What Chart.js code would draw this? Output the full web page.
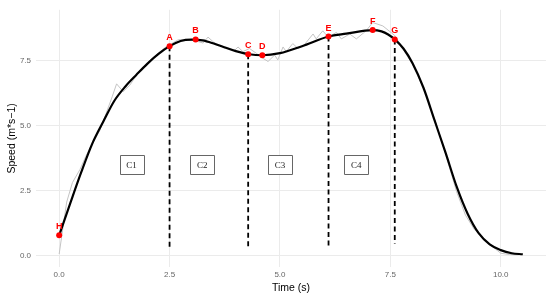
<!DOCTYPE html>
<html lang="en">
  <head>
    <meta charset="UTF-8" />
    <title>Speed over time</title>
    <style>
      html, body { margin: 0; padding: 0; background: #fff; }
      #wrap { width: 550px; height: 296px; }
    </style>
  </head>
  <body>
    <div id="wrap"><canvas id="myChart"></canvas></div>
    <script src="https://cdn.jsdelivr.net/npm/chart.js@4.4.1/dist/chart.umd.min.js"></script>
    <script>
      // raw measured speed (grey, noisy)
      var rawTime = [0, 0.08, 0.17, 0.3, 0.47, 0.6, 0.75, 0.92, 1.05, 1.2, 1.3, 1.45, 1.6, 1.8, 2.0, 2.2, 2.4, 2.55, 2.7, 2.9, 3.1, 3.26, 3.37, 3.5, 3.64, 3.8, 3.98, 4.05, 4.16, 4.31, 4.47, 4.6, 4.73, 4.88, 4.95, 5.07, 5.14, 5.29, 5.41, 5.55, 5.75, 5.82, 5.97, 6.09, 6.28, 6.39, 6.58, 6.73, 6.95, 7.1, 7.33, 7.6, 7.8, 8.0, 8.25, 8.5, 8.75, 9.0, 9.2, 9.4, 9.6, 9.8, 10.0, 10.2, 10.4];
      var rawSpeed = [0.05, 1.0, 2.05, 2.8, 3.3, 3.8, 4.3, 4.8, 5.4, 6.1, 6.6, 6.3, 6.55, 7.05, 7.4, 7.72, 8.0, 8.15, 8.3, 8.3, 8.25, 8.17, 8.4, 8.2, 8.08, 8.0, 7.9, 8.02, 7.84, 7.96, 7.77, 7.6, 7.46, 7.71, 7.52, 8.02, 7.84, 8.15, 7.96, 8.1, 8.52, 8.33, 8.64, 8.4, 8.58, 8.33, 8.52, 8.33, 8.64, 8.96, 8.83, 8.46, 7.9, 7.35, 6.45, 5.25, 3.9, 2.45, 1.55, 1.0, 0.65, 0.35, 0.08, 0.03, 0.02];

      // smoothed speed (black)
      var fitTime = [0, 0.25, 0.5, 0.75, 1.0, 1.25, 1.5, 1.75, 2.0, 2.25, 2.5, 2.75, 3.0, 3.25, 3.5, 3.75, 4.0, 4.3, 4.6, 5.0, 5.5, 6.1, 6.5, 7.1, 7.3, 7.45, 7.6, 7.8, 8.0, 8.25, 8.5, 8.75, 9.0, 9.25, 9.5, 9.75, 10.0, 10.25, 10.5];
      var fitSpeed = [0.77, 2.0, 3.2, 4.3, 5.15, 5.95, 6.5, 6.95, 7.38, 7.75, 8.05, 8.25, 8.3, 8.27, 8.15, 8.0, 7.86, 7.74, 7.7, 7.78, 8.05, 8.42, 8.53, 8.67, 8.62, 8.5, 8.31, 7.95, 7.4, 6.45, 5.2, 3.95, 2.65, 1.6, 0.85, 0.42, 0.2, 0.08, 0.04];

      // marked points
      var pointNames = ["A", "B", "C", "D", "E", "F", "G", "H"];
      var pointTime = [2.5, 3.09, 4.28, 4.6, 6.1, 7.1, 7.6, 0];
      var pointSpeed = [8.05, 8.31, 7.74, 7.7, 8.42, 8.67, 8.31, 0.77];

      // dashed phase boundaries (from point down)
      var cutTime = [2.5, 4.28, 6.1, 7.6];
      var cutTop = [8.05, 7.74, 8.42, 8.31];
      var cutBottom = [0.22, 0.3, 0.3, 0.44];

      // phase boxes
      var phaseNames = ["C1", "C2", "C3", "C4"];
      var phaseTime = [1.64, 3.24, 5.0, 6.73];
      var phaseSpeed = [3.48, 3.48, 3.48, 3.48];

      var xTicks = [0, 2.5, 5, 7.5, 10];
      var yTicks = [0, 2.5, 5, 7.5];

      function pairs(xs, ys) {
        return xs.map(function (v, i) { return { x: v, y: ys[i] }; });
      }

      var cutSets = cutTime.map(function (t, i) {
        return {
          data: [{ x: t, y: cutTop[i] }, { x: t, y: cutBottom[i] }],
          showLine: true,
          borderColor: "#000",
          borderWidth: 1.8,
          borderDash: [5, 3.5],
          pointRadius: 0,
          order: 2,
        };
      });

      var annot = {
        id: "annot",
        afterDatasetsDraw: function (chart) {
          var ctx = chart.ctx;
          var xs = chart.scales.x, ys = chart.scales.y;
          ctx.save();
          // red letters
          ctx.fillStyle = "#ff0000";
          ctx.font = 'bold 9px "Liberation Sans", Arial, sans-serif';
          ctx.textAlign = "center";
          ctx.textBaseline = "middle";
          pointNames.forEach(function (n, i) {
            ctx.fillText(n, xs.getPixelForValue(pointTime[i]), ys.getPixelForValue(pointSpeed[i]) - 8.5);
          });
          // boxes
          ctx.font = '9px "Liberation Serif", "Times New Roman", serif';
          phaseNames.forEach(function (n, i) {
            var px = xs.getPixelForValue(phaseTime[i]);
            var py = ys.getPixelForValue(phaseSpeed[i]);
            var w = 24, h = 19;
            ctx.fillStyle = "#fff";
            ctx.strokeStyle = "#666";
            ctx.lineWidth = 1;
            ctx.beginPath();
            ctx.rect(Math.round(px - w / 2) + 0.5, Math.round(py - h / 2) + 0.5, w, h);
            ctx.fill();
            ctx.stroke();
            ctx.fillStyle = "#222";
            ctx.fillText(n, px, py + 0.5);
          });
          ctx.restore();
        },
      };

      new Chart("myChart", {
        type: "scatter",
        data: {
          datasets: [
            {
              data: pairs(rawTime, rawSpeed),
              showLine: true,
              borderColor: "#c4c4c4",
              borderWidth: 1,
              pointRadius: 0,
              tension: 0,
              order: 4,
            },
            {
              data: pairs(fitTime, fitSpeed),
              showLine: true,
              borderColor: "#000",
              borderWidth: 2.2,
              pointRadius: 0,
              cubicInterpolationMode: "monotone",
              order: 3,
            },
          ].concat(cutSets, [
            {
              data: pairs(pointTime, pointSpeed),
              backgroundColor: "#ff0000",
              borderWidth: 0,
              pointRadius: 3,
              order: 1,
            },
          ]),
        },
        plugins: [annot],
        options: {
          responsive: true,
          maintainAspectRatio: false,
          animation: false,
          layout: { padding: { top: 2, right: 3, left: 0, bottom: 0 } },
          plugins: {
            legend: { display: false },
            tooltip: { enabled: false },
          },
          scales: {
            x: {
              type: "linear",
              min: -0.525,
              max: 11.025,
              afterBuildTicks: function (s) {
                s.ticks = xTicks.map(function (v) { return { value: v }; });
              },
              afterFit: function (s) { s.height = 29; },
              grid: { color: "#ebebeb", drawTicks: false },
              border: { display: false },
              ticks: {
                padding: 3,
                color: "#666",
                font: { size: 8, family: '"Liberation Sans", Arial' },
                callback: function (v) { return v.toFixed(1); },
              },
              title: {
                display: true,
                text: "Time (s)",
                color: "#000",
                padding: { top: 0, bottom: 1.5 },
                font: { size: 10.5, family: '"Liberation Sans", Arial' },
              },
            },
            y: {
              min: -0.45,
              max: 9.45,
              afterBuildTicks: function (s) {
                s.ticks = yTicks.map(function (v) { return { value: v }; });
              },
              afterFit: function (s) { s.width = 36; },
              grid: { color: "#ebebeb", drawTicks: false },
              border: { display: false },
              ticks: {
                padding: 5,
                color: "#666",
                font: { size: 8, family: '"Liberation Sans", Arial' },
                callback: function (v) { return v.toFixed(1); },
              },
              title: {
                display: true,
                text: "Speed (m*s\u22121)",
                color: "#000",
                padding: { top: 6, bottom: 0 },
                font: { size: 10.5, family: '"Liberation Sans", Arial' },
              },
            },
          },
        },
      });
    </script>
  </body>
</html>
